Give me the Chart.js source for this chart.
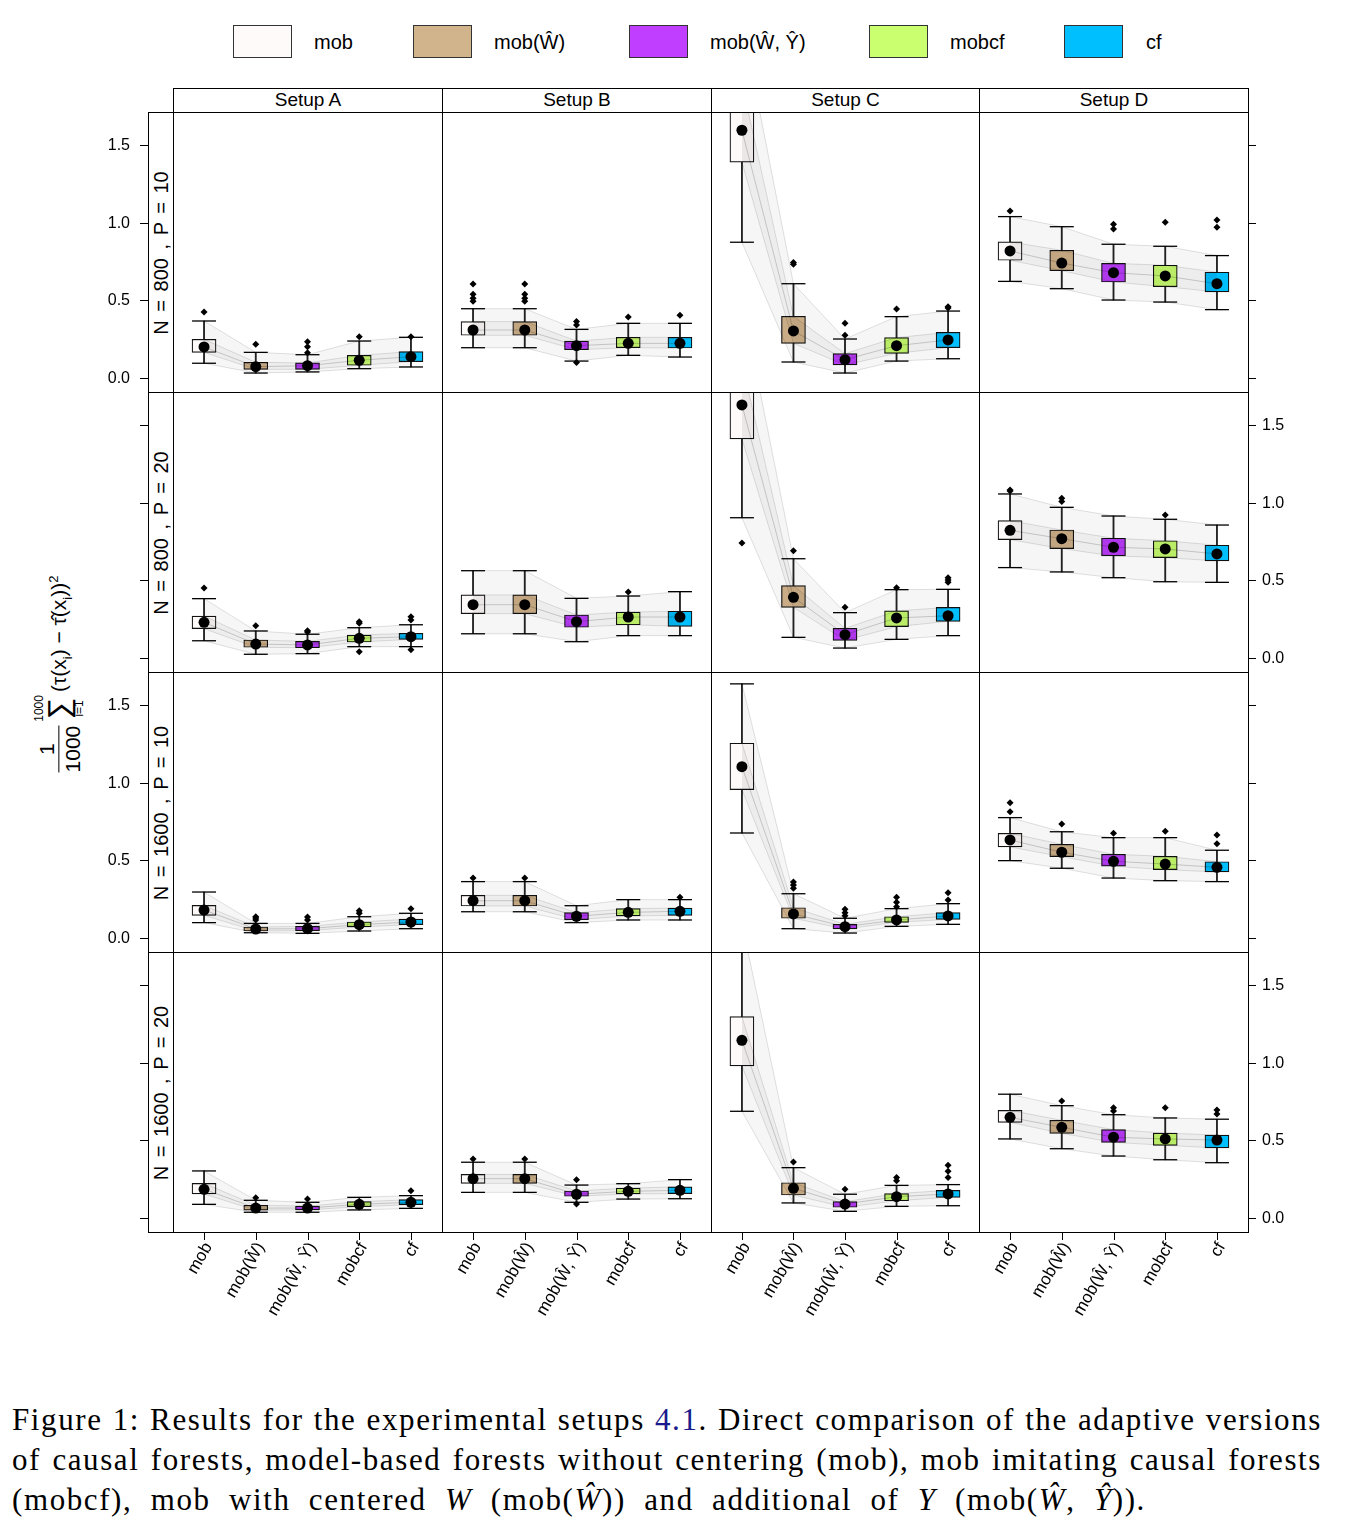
<!DOCTYPE html>
<html>
<head>
<meta charset="utf-8">
<script src="https://cdn.jsdelivr.net/npm/chart.js@4.4.0/dist/chart.umd.min.js"></script>
<style>
body { margin: 0; background: #fff; }
#page { position: relative; width: 1354px; height: 1538px; overflow: hidden; font-family: "Liberation Sans", Arial, sans-serif; color: #000; }
#page canvas { position: absolute; }
.key { position: absolute; top: 25px; width: 59px; height: 33px; border: 1px solid #333; box-sizing: border-box; }
.keytxt { position: absolute; top: 30px; font-size: 20px; line-height: 24px; white-space: nowrap; }
.strip { position: absolute; top: 88px; height: 25px; border: 1px solid #000; box-sizing: border-box; text-align: center; font-size: 19px; line-height: 22px; background: #fff; }
.rstrip { position: absolute; left: 148px; width: 26px; height: 281px; border: 1px solid #000; box-sizing: border-box; }
.rstrip span { position: absolute; left: 50%; top: 50%; transform: translate(-50%, -50%) rotate(-90deg); white-space: nowrap; font-size: 20px; word-spacing: 3px; }
#ytitle { position: absolute; left: 60px; top: 674px; transform: translate(-50%, -50%) rotate(-90deg); display: flex; align-items: center; white-space: nowrap; font-size: 21px; }
#ytitle .frac { display: inline-flex; flex-direction: column; align-items: center; margin-right: 4px; line-height: 1.1; }
#ytitle .den { border-top: 1px solid #000; padding-top: 2px; }
#ytitle .sum { display: inline-flex; flex-direction: column; align-items: center; line-height: 0.95; margin-right: 3px; }
#ytitle .lim { font-size: 12px; }
#ytitle .sig { font-size: 30px; }
#ytitle sub, #ytitle sup { font-size: 13px; }
#caption { position: absolute; left: 12px; top: 1400px; width: 1310px; font-family: "Liberation Serif", "DejaVu Serif", serif; font-size: 31px; line-height: 40px; letter-spacing: 1.6px; }
#caption div { white-space: nowrap; text-align: justify; text-align-last: justify; }
#caption div.last { text-align: left; text-align-last: left; word-spacing: 9px; }
#caption .ref { color: #1a1a8c; }
</style>
</head>
<body>
<div id="page">
  <div id="ytitle">
    <span class="frac"><span>1</span><span class="den">1000</span></span>
    <span class="sum"><span class="lim">1000</span><span class="sig">∑</span><span class="lim">i=1</span></span>
    <span>(τ(x<sub>i</sub>) − τ̂(x<sub>i</sub>))<sup>2</sup></span>
  </div>
  <div id="caption">
    <div>Figure 1: Results for the experimental setups <span class="ref">4.1</span>. Direct comparison of the adaptive versions</div>
    <div>of causal forests, model-based forests without centering (mob), mob imitating causal forests</div>
    <div class="last">(mobcf), mob with centered <i>W</i> (mob(<i>Ŵ</i>)) and additional of <i>Y</i> (mob(<i>Ŵ</i>, <i>Ŷ</i>)).</div>
  </div>
</div>
<script>
// ============================================================
// DATA
// ============================================================
const setups = ['Setup A', 'Setup B', 'Setup C', 'Setup D'];
const rowLabels = ['N = 800 , P = 10', 'N = 800 , P = 20', 'N = 1600 , P = 10', 'N = 1600 , P = 20'];
const methods = ['mob', 'mob(Ŵ)', 'mob(Ŵ, Ŷ)', 'mobcf', 'cf'];
const yTicks = [0, 0.5, 1.0, 1.5];
const yTickLabels = ['0.0', '0.5', '1.0', '1.5'];

// [row][setup][method]
const whiskerLow = [
    [[0.095, 0.032, 0.039, 0.060, 0.071], [0.195, 0.195, 0.109, 0.146, 0.135], [0.874, 0.103, 0.032, 0.109, 0.124], [0.622, 0.575, 0.502, 0.489, 0.440]],
    [[0.111, 0.024, 0.028, 0.073, 0.073], [0.156, 0.156, 0.105, 0.144, 0.144], [0.903, 0.133, 0.064, 0.120, 0.144], [0.582, 0.554, 0.517, 0.491, 0.487]],
    [[0.099, 0.034, 0.030, 0.045, 0.060], [0.169, 0.169, 0.099, 0.116, 0.116], [0.676, 0.060, 0.032, 0.075, 0.088], [0.498, 0.449, 0.386, 0.369, 0.363]],
    [[0.088, 0.037, 0.037, 0.052, 0.062], [0.165, 0.165, 0.101, 0.122, 0.124], [0.687, 0.097, 0.043, 0.075, 0.079], [0.509, 0.446, 0.399, 0.375, 0.356]]
];
const boxLow = [
    [[0.165, 0.056, 0.056, 0.082, 0.105], [0.275, 0.275, 0.182, 0.195, 0.193], [1.389, 0.223, 0.084, 0.159, 0.195], [0.758, 0.691, 0.618, 0.588, 0.554]],
    [[0.189, 0.069, 0.066, 0.103, 0.120], [0.285, 0.285, 0.198, 0.214, 0.204], [1.410, 0.326, 0.114, 0.202, 0.236], [0.762, 0.704, 0.657, 0.646, 0.625]],
    [[0.146, 0.045, 0.047, 0.071, 0.086], [0.206, 0.206, 0.118, 0.142, 0.146], [0.955, 0.127, 0.058, 0.101, 0.120], [0.586, 0.524, 0.462, 0.440, 0.425]],
    [[0.155, 0.050, 0.052, 0.073, 0.086], [0.223, 0.223, 0.140, 0.155, 0.157], [0.979, 0.148, 0.069, 0.111, 0.133], [0.616, 0.545, 0.487, 0.468, 0.451]]
];
const median = [
    [[0.200, 0.073, 0.079, 0.114, 0.137], [0.309, 0.309, 0.208, 0.223, 0.223], [1.595, 0.303, 0.118, 0.208, 0.245], [0.818, 0.740, 0.678, 0.657, 0.607]],
    [[0.230, 0.090, 0.084, 0.127, 0.137], [0.343, 0.343, 0.234, 0.264, 0.264], [1.629, 0.391, 0.150, 0.258, 0.272], [0.822, 0.768, 0.713, 0.702, 0.670]],
    [[0.180, 0.058, 0.060, 0.086, 0.103], [0.240, 0.240, 0.140, 0.165, 0.172], [1.103, 0.155, 0.073, 0.116, 0.142], [0.631, 0.552, 0.494, 0.476, 0.455]],
    [[0.185, 0.064, 0.064, 0.088, 0.101], [0.253, 0.253, 0.153, 0.172, 0.178], [1.144, 0.191, 0.090, 0.137, 0.155], [0.648, 0.584, 0.520, 0.509, 0.502]]
];
const boxHigh = [
    [[0.249, 0.101, 0.097, 0.146, 0.170], [0.363, 0.363, 0.238, 0.262, 0.262], [1.900, 0.397, 0.157, 0.260, 0.294], [0.876, 0.822, 0.738, 0.726, 0.681]],
    [[0.270, 0.116, 0.107, 0.148, 0.159], [0.406, 0.406, 0.277, 0.296, 0.301], [1.900, 0.466, 0.191, 0.303, 0.326], [0.884, 0.824, 0.771, 0.755, 0.726]],
    [[0.210, 0.071, 0.075, 0.103, 0.122], [0.275, 0.275, 0.163, 0.189, 0.193], [1.254, 0.195, 0.088, 0.137, 0.163], [0.674, 0.603, 0.539, 0.526, 0.491]],
    [[0.223, 0.082, 0.077, 0.105, 0.118], [0.281, 0.281, 0.174, 0.193, 0.200], [1.296, 0.227, 0.105, 0.157, 0.178], [0.693, 0.629, 0.569, 0.547, 0.534]]
];
const whiskerHigh = [
    [[0.367, 0.165, 0.150, 0.238, 0.262], [0.446, 0.446, 0.313, 0.352, 0.352], [2.300, 0.607, 0.251, 0.395, 0.431], [1.039, 0.974, 0.861, 0.848, 0.788]],
    [[0.382, 0.174, 0.153, 0.195, 0.214], [0.562, 0.562, 0.384, 0.399, 0.427], [2.300, 0.639, 0.292, 0.440, 0.442], [1.056, 0.970, 0.914, 0.893, 0.856]],
    [[0.296, 0.094, 0.094, 0.137, 0.159], [0.363, 0.363, 0.208, 0.247, 0.247], [1.636, 0.285, 0.127, 0.189, 0.221], [0.775, 0.684, 0.646, 0.646, 0.565]],
    [[0.303, 0.114, 0.101, 0.133, 0.144], [0.359, 0.359, 0.212, 0.221, 0.247], [1.900, 0.324, 0.153, 0.210, 0.215], [0.797, 0.723, 0.665, 0.644, 0.636]]
];
const outliers = [
    [[[0.425], [0.217], [0.163, 0.202, 0.234], [0.266], [0.266]],
     [[0.494, 0.513, 0.539, 0.605], [0.494, 0.513, 0.539, 0.605], [0.100, 0.342, 0.363], [0.393], [0.404]],
     [[], [0.732, 0.743], [0.275, 0.352], [0.444], [0.450, 0.459]],
     [[1.075], [], [0.960, 0.990], [1.002], [0.970, 1.017]]],
    [[[0.451], [0.208], [0.168, 0.176], [0.041, 0.223, 0.234], [0.053, 0.245, 0.266]],
     [[], [], [], [0.425], []],
     [[0.741], [0.691], [0.326], [0.452], [0.487, 0.502, 0.517]],
     [[1.075, 1.082], [1.007, 1.028], [], [0.921], []]],
    [[[], [0.116, 0.129, 0.137], [0.116, 0.135], [0.159, 0.176], [0.189]],
     [[0.386], [0.386], [], [], [0.262]],
     [[], [0.320, 0.341, 0.361], [0.144, 0.163, 0.185], [0.202, 0.230, 0.262], [0.245, 0.292]],
     [[0.813, 0.871], [0.734], [0.674], [0.687], [0.607, 0.663]]],
    [[[], [0.131], [0.122], [], [0.176]],
     [[0.380], [0.380], [0.090, 0.247], [], []],
     [[], [0.361], [0.185], [0.240, 0.260], [0.260, 0.301, 0.339]],
     [[], [0.753], [0.689, 0.710], [0.710], [0.670, 0.695]]]
];

// ============================================================
// LAYOUT / STYLE
// ============================================================
const boxColors = ['#FFFAFA', '#D2B48C', '#BF3EFF', '#CAFF70', '#00BFFF'];
const colX = [173, 442, 711, 979, 1248];
const rowY = [112, 392, 672, 952, 1232];
const keyX = [233, 413, 629, 869, 1064];
const keyTextX = [314, 494, 710, 950, 1146];
const yMin = -0.0901, yMax = 1.7124;
const M = { left: 80, right: 80, top: 4, bottom: 100 };
const FONT = '"Liberation Sans", Arial, sans-serif';

// ============================================================
// LATTICE DECORATIONS (border, ticks, tick labels)
// ============================================================
const lattice = {
    id: 'lattice',
    afterDraw(chart, args, opts) {
        const ctx = chart.ctx;
        const a = chart.chartArea;
        const xs = chart.scales.x, ys = chart.scales.y;
        ctx.save();
        ctx.strokeStyle = '#000';
        ctx.fillStyle = '#000';
        ctx.lineWidth = 1;
        ctx.strokeRect(a.left + 0.5, a.top + 0.5, a.right - a.left, a.bottom - a.top);
        ctx.font = '16px ' + FONT;
        ctx.textBaseline = 'middle';

        yTicks.forEach((v, i) => {
            const py = Math.round(ys.getPixelForValue(v)) + 0.5;
            if (opts.col === 0) {
                ctx.beginPath();
                ctx.moveTo(a.left - 33, py);
                ctx.lineTo(a.left - 25, py);
                ctx.stroke();
                if (opts.row % 2 === 0) {
                    ctx.textAlign = 'right';
                    ctx.fillText(yTickLabels[i], a.left - 43, py);
                }
            }
            if (opts.col === 3) {
                ctx.beginPath();
                ctx.moveTo(a.right, py);
                ctx.lineTo(a.right + 8, py);
                ctx.stroke();
                if (opts.row % 2 === 1) {
                    ctx.textAlign = 'left';
                    ctx.fillText(yTickLabels[i], a.right + 14, py);
                }
            }
        });

        if (opts.row === 3) {
            ctx.font = '17px ' + FONT;
            methods.forEach((m, i) => {
                const px = Math.round(xs.getPixelForValue(i + 1)) + 0.5;
                ctx.beginPath();
                ctx.moveTo(px, a.bottom);
                ctx.lineTo(px, a.bottom + 8);
                ctx.stroke();
                ctx.save();
                ctx.translate(px + 4, a.bottom + 12);
                ctx.rotate(-Math.PI / 3);
                ctx.textAlign = 'right';
                ctx.fillText(m, 0, 0);
                ctx.restore();
            });
        }
        ctx.restore();
    }
};

// ============================================================
// PANEL DATASETS
// ============================================================
function points(values) {
    return values.map((v, i) => ({ x: i + 1, y: v }));
}

function panelDatasets(r, c) {
    const lo = whiskerLow[r][c], q1 = boxLow[r][c], md = median[r][c];
    const q3 = boxHigh[r][c], hi = whiskerHigh[r][c];
    const outPts = [];
    outliers[r][c].forEach((list, i) => list.forEach(v => outPts.push({ x: i + 1, y: v })));
    const thin = 'rgba(0,0,0,0.12)';

    return [
        // 0 median dots
        { type: 'scatter', data: points(md), pointRadius: 5.5, pointBackgroundColor: '#000', pointBorderWidth: 0, clip: 0 },
        // 1 outliers
        { type: 'scatter', data: outPts, pointStyle: 'rectRot', pointRadius: 3.5, pointBackgroundColor: '#000', pointBorderWidth: 0, clip: 0 },
        // 2 whisker caps
        { type: 'scatter', data: points(lo).concat(points(hi)), pointStyle: 'line', pointRadius: 12,
          borderColor: '#000', pointBorderColor: '#000', pointBorderWidth: 1.3, clip: 0 },
        // 3-7 background trace lines
        { type: 'line', data: points(q1), borderColor: thin, borderWidth: 1, pointRadius: 0, fill: false, clip: 0 },
        { type: 'line', data: points(md), borderColor: 'rgba(0,0,0,0.18)', borderWidth: 1, pointRadius: 0, fill: false, clip: 0 },
        { type: 'line', data: points(q3), borderColor: thin, borderWidth: 1, pointRadius: 0, fill: 3,
          backgroundColor: 'rgba(0,0,0,0.04)', clip: 0 },
        { type: 'line', data: points(lo), borderColor: thin, borderWidth: 1, pointRadius: 0, fill: false, clip: 0 },
        { type: 'line', data: points(hi), borderColor: thin, borderWidth: 1, pointRadius: 0, fill: '-1',
          backgroundColor: 'rgba(0,0,0,0.035)', clip: 0 },
        // 8 boxes
        { type: 'bar', data: q1.map((v, i) => ({ x: i + 1, y: [v, q3[i]] })), backgroundColor: boxColors,
          borderColor: '#111', borderWidth: 1.2, borderSkipped: false, barThickness: 24, grouped: false, clip: 0 },
        // 9 whisker stems
        { type: 'bar', data: lo.map((v, i) => ({ x: i + 1, y: [v, hi[i]] })), backgroundColor: '#222',
          borderWidth: 0, barThickness: 1.2, grouped: false, clip: 0 }
    ];
}

// ============================================================
// BUILD PAGE
// ============================================================
function buildDecor() {
    const page = document.getElementById('page');
    methods.forEach((m, i) => {
        const k = document.createElement('div');
        k.className = 'key';
        k.style.left = keyX[i] + 'px';
        k.style.background = boxColors[i];
        page.appendChild(k);
        const t = document.createElement('div');
        t.className = 'keytxt';
        t.style.left = keyTextX[i] + 'px';
        t.textContent = m;
        page.appendChild(t);
    });
    setups.forEach((s, c) => {
        const d = document.createElement('div');
        d.className = 'strip';
        d.style.left = colX[c] + 'px';
        d.style.width = (colX[c + 1] - colX[c] + 1) + 'px';
        d.textContent = s;
        page.appendChild(d);
    });
    rowLabels.forEach((s, r) => {
        const d = document.createElement('div');
        d.className = 'rstrip';
        d.style.top = rowY[r] + 'px';
        const sp = document.createElement('span');
        sp.textContent = s;
        d.appendChild(sp);
        page.appendChild(d);
    });
}

function buildPanels() {
    const page = document.getElementById('page');
    for (let r = 0; r < 4; r++) {
        for (let c = 0; c < 4; c++) {
            const w = colX[c + 1] - colX[c] + M.left + M.right;
            const h = rowY[r + 1] - rowY[r] + M.top + M.bottom;
            const cv = document.createElement('canvas');
            cv.width = w;
            cv.height = h;
            cv.style.left = (colX[c] - M.left) + 'px';
            cv.style.top = (rowY[r] - M.top) + 'px';
            page.appendChild(cv);

            new Chart(cv, {
                type: 'bar',
                data: { datasets: panelDatasets(r, c) },
                plugins: [lattice],
                options: {
                    responsive: false,
                    animation: false,
                    devicePixelRatio: 1,
                    layout: { autoPadding: false, padding: { left: M.left, right: M.right, top: M.top, bottom: M.bottom } },
                    scales: {
                        x: { type: 'linear', min: 0.4, max: 5.6, offset: false, display: false },
                        y: { type: 'linear', min: yMin, max: yMax, display: false }
                    },
                    plugins: {
                        legend: { display: false },
                        tooltip: { enabled: false },
                        lattice: { row: r, col: c }
                    }
                }
            });
        }
    }
}

document.addEventListener('DOMContentLoaded', function() {
    buildDecor();
    buildPanels();
});
</script>
</body>
</html>
